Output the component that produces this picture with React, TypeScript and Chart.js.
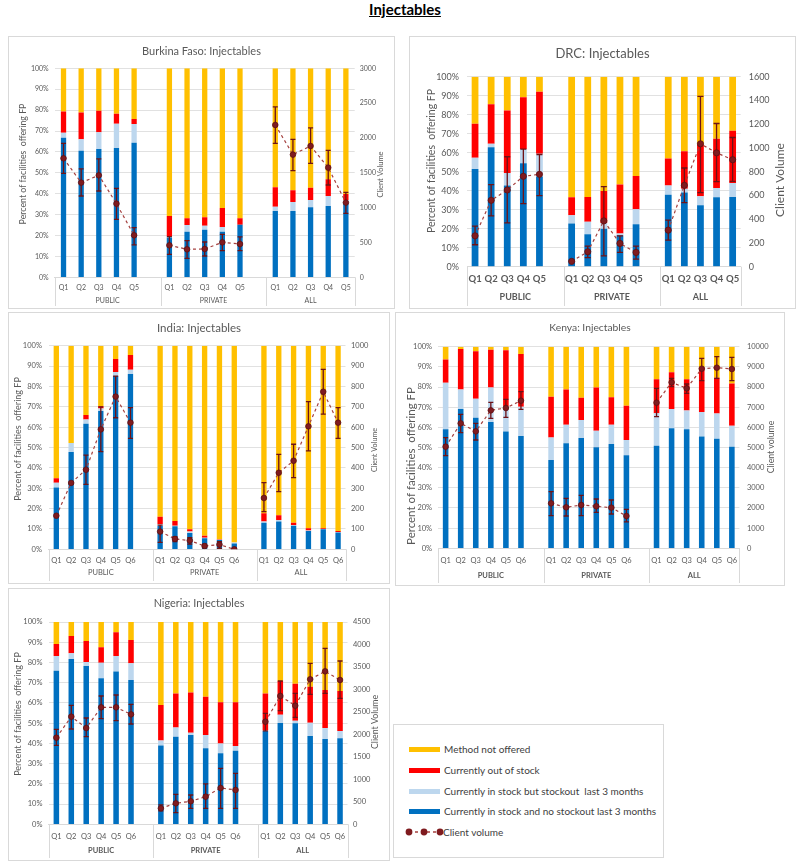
import React, { useEffect, useRef } from 'react';
import { Chart, registerables } from 'chart.js';

Chart.register(...registerables);

const FONT = 'Lato, "Noto Sans", sans-serif';
Chart.defaults.font.family = FONT;

const BLUE = '#0070C0';
const LIGHT_BLUE = '#BDD7EE';
const RED = '#FF0000';
const YELLOW = '#FFC000';
const POINT_FILL = '#7F1B1F';
const POINT_EDGE = '#5E0F12';
const LINE_COLOR = '#A5413F';
const ERR_COLOR = '#6E1216';
const GRID = '#D9D9D9';
const TEXT = '#595959';

const GROUPS = ['PUBLIC', 'PRIVATE', 'ALL'];
const QUINTILES_5 = ['Q1', 'Q2', 'Q3', 'Q4', 'Q5'];
const QUINTILES_6 = ['Q1', 'Q2', 'Q3', 'Q4', 'Q5', 'Q6'];
const SERIES_NAMES = [
  'Currently in stock and no stockout last 3 months',
  'Currently in stock but stockout  last 3 months',
  'Currently out of stock',
  'Method not offered',
];
const LINE_NAME = 'Client volume';
const LEFT_AXIS_TITLE = 'Percent of facilities  offering FP';
const PERCENT_MAX = 100;
const PERCENT_STEP = 10;

// ---------- Burkina Faso ----------
const BF_IN_STOCK = [66.8, 60.6, 61.4, 61.9, 64.4, 19.1, 21.8, 22.8, 21.8, 25.2, 31.7, 31.7, 33.5, 34.1, 35.4];
const BF_STOCKOUT_3M = [2.4, 5.4, 8.0, 11.6, 9.0, 0.4, 3.2, 1.9, 2.3, 0.0, 2.0, 4.3, 3.5, 4.8, 1.6];
const BF_OUT_OF_STOCK = [10.1, 12.8, 10.3, 4.8, 2.4, 9.8, 3.2, 4.0, 9.1, 3.0, 9.4, 5.6, 5.9, 8.0, 2.9];
const BF_NOT_OFFERED = [20.7, 21.2, 20.3, 21.7, 24.2, 70.7, 71.8, 71.3, 66.8, 71.8, 56.9, 58.4, 57.1, 53.1, 60.1];
const BF_CLIENTS = [1708, 1359, 1464, 1057, 603, 459, 402, 407, 502, 478, 2187, 1761, 1885, 1574, 1072];
const BF_CLIENTS_LOW = [1493, 1167, 1239, 832, 464, 330, 273, 306, 383, 383, 1923, 1531, 1636, 1325, 919];
const BF_CLIENTS_HIGH = [1923, 1555, 1699, 1277, 713, 584, 526, 507, 617, 579, 2445, 1981, 2144, 1823, 1220];
const BF_VOLUME_MAX = 3000;
const BF_VOLUME_STEP = 500;

// ---------- DRC ----------
const DRC_IN_STOCK = [51.4, 62.9, 42.8, 54.5, 47.5, 22.7, 17.1, 20.0, 16.6, 22.4, 37.9, 39.0, 32.3, 36.5, 36.7];
const DRC_STOCKOUT_3M = [5.9, 1.8, 6.5, 7.4, 11.9, 4.4, 6.5, 3.0, 0.9, 7.8, 4.9, 2.0, 4.8, 4.9, 7.4];
const DRC_OUT_OF_STOCK = [17.9, 20.8, 32.9, 27.3, 32.7, 9.4, 13.1, 16.9, 25.7, 17.5, 14.2, 19.8, 27.2, 25.9, 27.4];
const DRC_NOT_OFFERED = [24.8, 14.5, 17.8, 10.8, 7.9, 63.5, 63.3, 60.1, 56.8, 52.3, 43.0, 39.2, 35.7, 32.7, 28.5];
const DRC_CLIENTS = [260, 559, 646, 761, 778, 45, 126, 386, 196, 120, 308, 685, 1035, 959, 901];
const DRC_CLIENTS_LOW = [185, 428, 369, 531, 599, 45, 76, 92, 120, 64, 224, 540, 624, 716, 719];
const DRC_CLIENTS_HIGH = [341, 691, 926, 990, 945, 45, 173, 674, 260, 173, 392, 831, 1435, 1206, 1088];
const DRC_VOLUME_MAX = 1600;
const DRC_VOLUME_STEP = 200;

// ---------- India ----------
const IN_IN_STOCK = [30.3, 47.8, 61.7, 67.9, 85.1, 86.1, 11.5, 11.3, 8.0, 5.4, 4.6, 2.9, 13.1, 13.6, 11.6, 9.0, 9.8, 8.2];
const IN_STOCKOUT_3M = [2.4, 4.4, 2.0, 1.3, 2.0, 2.1, 0.8, 0.3, 0.7, 0.3, 0.1, 0.4, 0.5, 0.8, 0.3, 0.2, 0.2, 0.3];
const IN_OUT_OF_STOCK = [2.2, 0.0, 2.3, 1.0, 6.4, 7.2, 3.7, 2.3, 1.1, 1.0, 0.2, 0.0, 4.1, 2.3, 1.2, 1.1, 0.3, 0.5];
const IN_NOT_OFFERED = [65.1, 47.8, 34.0, 29.8, 6.5, 4.6, 84.0, 86.1, 90.2, 93.3, 95.1, 96.7, 82.3, 83.3, 86.9, 89.7, 89.7, 91.0];
const IN_CLIENTS = [165, 326, 391, 589, 750, 622, 87, 51, 43, 16, 23, 0, 252, 376, 435, 604, 774, 622];
const IN_CLIENTS_LOW = [165, 326, 319, 480, 646, 545, 34, 38, 25, 8, 5, 0, 185, 283, 352, 483, 664, 545];
const IN_CLIENTS_HIGH = [165, 326, 463, 700, 851, 696, 119, 62, 57, 25, 38, 0, 327, 466, 516, 725, 884, 696];
const IN_VOLUME_MAX = 1000;
const IN_VOLUME_STEP = 100;

// ---------- Kenya ----------
const KE_IN_STOCK = [59.0, 69.1, 64.8, 62.6, 57.9, 55.7, 43.8, 52.1, 54.7, 50.1, 51.7, 46.1, 50.9, 59.5, 59.0, 55.4, 54.4, 50.4];
const KE_STOCKOUT_3M = [23.1, 9.7, 9.4, 17.2, 12.7, 14.5, 11.2, 9.2, 8.9, 8.2, 9.6, 7.6, 16.1, 9.6, 9.3, 12.2, 12.5, 10.4];
const KE_OUT_OF_STOCK = [11.6, 20.0, 23.5, 18.7, 27.6, 26.2, 20.2, 17.5, 11.1, 21.4, 13.6, 17.0, 16.8, 18.2, 15.5, 22.2, 17.7, 21.0];
const KE_NOT_OFFERED = [6.3, 1.2, 2.3, 1.5, 1.8, 3.6, 24.8, 21.2, 25.3, 20.3, 25.1, 29.3, 16.2, 12.7, 16.2, 10.2, 15.4, 18.2];
const KE_CLIENTS = [5041, 6198, 5802, 6843, 6959, 7322, 2231, 2033, 2149, 2083, 2017, 1603, 7223, 8231, 7934, 8909, 8959, 8893];
const KE_CLIENTS_LOW = [4595, 5736, 5372, 6446, 6496, 6893, 1620, 1603, 1620, 1785, 1702, 1306, 6529, 8017, 7686, 8314, 8430, 8314];
const KE_CLIENTS_HIGH = [5488, 6645, 6198, 7240, 7388, 7769, 2810, 2479, 2628, 2446, 2397, 1934, 7934, 8430, 8149, 9421, 9504, 9471];
const KE_VOLUME_MAX = 10000;
const KE_VOLUME_STEP = 1000;

// ---------- Nigeria ----------
const NG_IN_STOCK = [75.9, 81.7, 78.3, 72.2, 75.5, 71.3, 39.0, 43.3, 44.2, 37.6, 35.1, 36.4, 46.1, 50.1, 49.9, 43.7, 42.2, 42.5];
const NG_STOCKOUT_3M = [7.3, 2.8, 1.9, 7.7, 7.7, 8.3, 2.4, 4.6, 1.1, 6.6, 4.9, 2.3, 0.3, 4.1, 1.3, 6.5, 5.4, 3.6];
const NG_OUT_OF_STOCK = [5.9, 8.6, 10.4, 7.6, 11.7, 11.5, 17.6, 16.8, 19.9, 18.9, 20.3, 21.6, 18.3, 16.6, 18.3, 17.8, 18.8, 19.8];
const NG_NOT_OFFERED = [10.9, 6.9, 9.4, 12.5, 5.1, 8.9, 41.0, 35.3, 34.8, 36.9, 39.7, 39.7, 35.3, 29.2, 30.5, 32.0, 33.6, 34.1];
const NG_CLIENTS = [1927, 2395, 2142, 2602, 2602, 2446, 356, 467, 512, 615, 808, 764, 2283, 2854, 2639, 3225, 3403, 3210];
const NG_CLIENTS_LOW = [1757, 2120, 1950, 2350, 2306, 2231, 297, 259, 356, 356, 356, 356, 2076, 2528, 2380, 2891, 2914, 2802];
const NG_CLIENTS_HIGH = [2113, 2647, 2365, 2854, 2876, 2669, 430, 667, 652, 897, 1245, 1134, 2469, 3188, 2914, 3579, 3914, 3633];
const NG_VOLUME_MAX = 4500;
const NG_VOLUME_STEP = 500;

// insert an empty category after each group (except the last) like the source's multi-level axis
function withGaps<T>(values: T[], perGroup: number): (T | null)[] {
  const out: (T | null)[] = [];
  for (let g = 0; g < GROUPS.length; g++) {
    for (let i = 0; i < perGroup; i++) out.push(values[g * perGroup + i]);
    if (g < GROUPS.length - 1) out.push(null);
  }
  return out;
}

function categoryLabels(quintiles: string[]): string[] {
  const out: string[] = [];
  GROUPS.forEach((_, g) => {
    quintiles.forEach((q) => out.push(q));
    if (g < GROUPS.length - 1) out.push('');
  });
  return out;
}

type Spec = {
  key: string;
  title: string;
  rightTitle: string;
  quintiles: string[];
  inStock: number[];
  stockout3m: number[];
  outOfStock: number[];
  notOffered: number[];
  clients: number[];
  low: number[];
  high: number[];
  rightMax: number;
  rightStep: number;
  frame: { x: number; y: number; w: number; h: number };
  plot: { l: number; t: number; r: number; b: number };
  titleY: number;
  titleSize: number;
  tickSize: number;
  qSize: number;
  qBold: boolean;
  groupSize: number;
  groupBold: boolean;
  groupY: number;
  xPad: number;
  leftPad: number;
  rightPad: number;
  leftTitleSize: number;
  rightTitleSize: number;
  leftTitleX: number;
  leftTitleY: number;
  rightTitleX: number;
  rightTitleY: number;
  barPct: number;
  pointR: number;
  cap: number;
};

const PANELS: Spec[] = [
  {
    key: 'bf', title: 'Burkina Faso: Injectables', rightTitle: 'Client Volume', quintiles: QUINTILES_5,
    inStock: BF_IN_STOCK, stockout3m: BF_STOCKOUT_3M, outOfStock: BF_OUT_OF_STOCK, notOffered: BF_NOT_OFFERED,
    clients: BF_CLIENTS, low: BF_CLIENTS_LOW, high: BF_CLIENTS_HIGH, rightMax: BF_VOLUME_MAX, rightStep: BF_VOLUME_STEP,
    frame: { x: 8, y: 36, w: 387, h: 273 }, plot: { l: 54.7, t: 68.3, r: 354.7, b: 277.3 },
    titleY: 51, titleSize: 11, tickSize: 7, qSize: 7, qBold: false, groupSize: 7, groupBold: false, groupY: 301,
    xPad: 6.5, leftPad: 6, rightPad: 5, leftTitleSize: 8.8, rightTitleSize: 7.5,
    leftTitleX: 23, leftTitleY: 164, rightTitleX: 381, rightTitleY: 174.5,
    barPct: 0.3, pointR: 2.8, cap: 2.5,
  },
  {
    key: 'drc', title: 'DRC: Injectables', rightTitle: 'Client Volume', quintiles: QUINTILES_5,
    inStock: DRC_IN_STOCK, stockout3m: DRC_STOCKOUT_3M, outOfStock: DRC_OUT_OF_STOCK, notOffered: DRC_NOT_OFFERED,
    clients: DRC_CLIENTS, low: DRC_CLIENTS_LOW, high: DRC_CLIENTS_HIGH, rightMax: DRC_VOLUME_MAX, rightStep: DRC_VOLUME_STEP,
    frame: { x: 409, y: 36, w: 387, h: 273 }, plot: { l: 467, t: 76.7, r: 740.7, b: 266.7 },
    titleY: 54, titleSize: 13, tickSize: 9, qSize: 9.5, qBold: true, groupSize: 9, groupBold: true, groupY: 297,
    xPad: 6.8, leftPad: 8, rightPad: 8, leftTitleSize: 10.5, rightTitleSize: 12,
    leftTitleX: 432, leftTitleY: 161, rightTitleX: 780, rightTitleY: 180,
    barPct: 0.42, pointR: 3.1, cap: 3,
  },
  {
    key: 'in', title: 'India: Injectables', rightTitle: 'Client Volume', quintiles: QUINTILES_6,
    inStock: IN_IN_STOCK, stockout3m: IN_STOCKOUT_3M, outOfStock: IN_OUT_OF_STOCK, notOffered: IN_NOT_OFFERED,
    clients: IN_CLIENTS, low: IN_CLIENTS_LOW, high: IN_CLIENTS_HIGH, rightMax: IN_VOLUME_MAX, rightStep: IN_VOLUME_STEP,
    frame: { x: 8, y: 312, w: 382, h: 272 }, plot: { l: 48.9, t: 345.7, r: 345.5, b: 549.3 },
    titleY: 328, titleSize: 11.5, tickSize: 7.5, qSize: 7.5, qBold: false, groupSize: 7.5, groupBold: false, groupY: 573,
    xPad: 6.6, leftPad: 7, rightPad: 5.5, leftTitleSize: 9, rightTitleSize: 7.2,
    leftTitleX: 18, leftTitleY: 439, rightTitleX: 375, rightTitleY: 450,
    barPct: 0.36, pointR: 2.8, cap: 2.5,
  },
  {
    key: 'ke', title: 'Kenya: Injectables', rightTitle: 'Client volume', quintiles: QUINTILES_6,
    inStock: KE_IN_STOCK, stockout3m: KE_STOCKOUT_3M, outOfStock: KE_OUT_OF_STOCK, notOffered: KE_NOT_OFFERED,
    clients: KE_CLIENTS, low: KE_CLIENTS_LOW, high: KE_CLIENTS_HIGH, rightMax: KE_VOLUME_MAX, rightStep: KE_VOLUME_STEP,
    frame: { x: 395, y: 312, w: 390, h: 274 }, plot: { l: 438.1, t: 346.7, r: 739.4, b: 548.3 },
    titleY: 328, titleSize: 10.3, tickSize: 7.5, qSize: 7.5, qBold: false, groupSize: 7.5, groupBold: true, groupY: 576,
    xPad: 7.3, leftPad: 6, rightPad: 7.5, leftTitleSize: 11.5, rightTitleSize: 8.7,
    leftTitleX: 411, leftTitleY: 466, rightTitleX: 771, rightTitleY: 447,
    barPct: 0.37, pointR: 2.8, cap: 2.5,
  },
  {
    key: 'ng', title: 'Nigeria: Injectables', rightTitle: 'Client Volume', quintiles: QUINTILES_6,
    inStock: NG_IN_STOCK, stockout3m: NG_STOCKOUT_3M, outOfStock: NG_OUT_OF_STOCK, notOffered: NG_NOT_OFFERED,
    clients: NG_CLIENTS, low: NG_CLIENTS_LOW, high: NG_CLIENTS_HIGH, rightMax: NG_VOLUME_MAX, rightStep: NG_VOLUME_STEP,
    frame: { x: 8, y: 588, w: 382, h: 273 }, plot: { l: 48.9, t: 622, r: 347.5, b: 824.3 },
    titleY: 603, titleSize: 10.9, tickSize: 7.5, qSize: 7.5, qBold: false, groupSize: 7.5, groupBold: true, groupY: 851,
    xPad: 7.4, leftPad: 6.5, rightPad: 5.5, leftTitleSize: 9, rightTitleSize: 8.8,
    leftTitleX: 18, leftTitleY: 714, rightTitleX: 375, rightTitleY: 722,
    barPct: 0.37, pointR: 2.8, cap: 2.5,
  },
];

function makePlugin(spec: Spec) {
  const n = spec.quintiles.length;
  const lows = withGaps(spec.low, n);
  const highs = withGaps(spec.high, n);
  return {
    id: 'decor_' + spec.key,
    beforeDatasetDraw(chart: any, args: any) {
      if (args.index !== 4) return;
      const ctx = chart.ctx;
      const meta = chart.getDatasetMeta(4);
      const y1 = chart.scales.y1;
      ctx.save();
      ctx.strokeStyle = ERR_COLOR;
      ctx.lineWidth = 1.3;
      meta.data.forEach((pt: any, i: number) => {
        const lo = lows[i];
        const hi = highs[i];
        if (lo == null || hi == null || hi - lo < 1) return;
        const x = pt.x;
        const yh = y1.getPixelForValue(hi);
        const yl = y1.getPixelForValue(lo);
        ctx.beginPath();
        ctx.moveTo(x, yh);
        ctx.lineTo(x, yl);
        ctx.moveTo(x - spec.cap, yh);
        ctx.lineTo(x + spec.cap, yh);
        ctx.moveTo(x - spec.cap, yl);
        ctx.lineTo(x + spec.cap, yl);
        ctx.stroke();
      });
      ctx.restore();
    },
    afterDraw(chart: any) {
      const ctx = chart.ctx;
      const fx = spec.frame.x;
      const fy = spec.frame.y;
      const area = chart.chartArea;
      const xs = chart.scales.x;
      ctx.save();
      ctx.fillStyle = TEXT;
      // chart title
      ctx.font = `${spec.titleSize}px ${FONT}`;
      ctx.textAlign = 'center';
      ctx.textBaseline = 'middle';
      ctx.fillText(spec.title, spec.frame.w / 2, spec.titleY - fy);
      // axis titles
      ctx.save();
      ctx.translate(spec.leftTitleX - fx, spec.leftTitleY - fy);
      ctx.rotate(-Math.PI / 2);
      ctx.font = `${spec.leftTitleSize}px ${FONT}`;
      ctx.fillText(LEFT_AXIS_TITLE, 0, 0);
      ctx.restore();
      ctx.save();
      ctx.translate(spec.rightTitleX - fx, spec.rightTitleY - fy);
      ctx.rotate(-Math.PI / 2);
      ctx.font = `${spec.rightTitleSize}px ${FONT}`;
      ctx.fillText(spec.rightTitle, 0, 0);
      ctx.restore();
      // group separators and labels
      const half = (xs.getPixelForValue(1) - xs.getPixelForValue(0)) / 2;
      const bounds = [area.left];
      for (let g = 0; g < GROUPS.length - 1; g++) {
        const gapIdx = g * (n + 1) + n;
        bounds.push(xs.getPixelForValue(gapIdx) + half);
      }
      bounds.push(area.right);
      ctx.strokeStyle = GRID;
      ctx.lineWidth = 1;
      const bottom = spec.frame.h - 3;
      bounds.forEach((b) => {
        const xb = Math.round(b) + 0.5;
        ctx.beginPath();
        ctx.moveTo(xb, area.bottom);
        ctx.lineTo(xb, bottom);
        ctx.stroke();
      });
      ctx.font = `${spec.groupBold ? 'bold ' : ''}${spec.groupSize}px ${FONT}`;
      GROUPS.forEach((gName, g) => {
        ctx.fillText(gName, (bounds[g] + bounds[g + 1]) / 2, spec.groupY - fy);
      });
      ctx.restore();
    },
  };
}

function makeConfig(spec: Spec): any {
  const n = spec.quintiles.length;
  const labels = categoryLabels(spec.quintiles);
  const barBase = {
    type: 'bar',
    yAxisID: 'y',
    stack: 'status',
    order: 1,
    barPercentage: spec.barPct,
    categoryPercentage: 1,
    borderWidth: 0,
  };
  const fw = spec.frame;
  const pl = spec.plot;
  return {
    type: 'bar',
    data: {
      labels,
      datasets: [
        { ...barBase, label: SERIES_NAMES[0], data: withGaps(spec.inStock, n), backgroundColor: BLUE },
        { ...barBase, label: SERIES_NAMES[1], data: withGaps(spec.stockout3m, n), backgroundColor: LIGHT_BLUE },
        { ...barBase, label: SERIES_NAMES[2], data: withGaps(spec.outOfStock, n), backgroundColor: RED },
        { ...barBase, label: SERIES_NAMES[3], data: withGaps(spec.notOffered, n), backgroundColor: YELLOW },
        {
          type: 'line',
          label: LINE_NAME,
          yAxisID: 'y1',
          order: 0,
          data: withGaps(spec.clients, n),
          borderColor: LINE_COLOR,
          borderWidth: 1.2,
          borderDash: [3, 3],
          pointRadius: spec.pointR,
          pointBackgroundColor: POINT_FILL,
          pointBorderColor: POINT_EDGE,
          pointBorderWidth: 0.8,
          spanGaps: false,
          tension: 0,
          fill: false,
        },
      ],
    },
    options: {
      responsive: false,
      animation: false,
      devicePixelRatio: 1,
      events: [],
      layout: { padding: { top: pl.t - fw.y, left: 0, right: 0, bottom: 0 } },
      plugins: { legend: { display: false }, tooltip: { enabled: false }, title: { display: false } },
      scales: {
        x: {
          stacked: true,
          offset: true,
          grid: { display: false, drawTicks: false },
          border: { display: true, color: GRID },
          ticks: {
            autoSkip: false,
            maxRotation: 0,
            minRotation: 0,
            padding: spec.xPad,
            color: TEXT,
            font: { family: FONT, size: spec.qSize, weight: spec.qBold ? 'bold' : 'normal' },
          },
          afterFit: (s: any) => {
            s.height = fw.y + fw.h - pl.b;
          },
        },
        y: {
          stacked: true,
          min: 0,
          max: PERCENT_MAX,
          position: 'left',
          grid: { color: GRID, drawTicks: false, lineWidth: 0.8 },
          border: { display: false },
          ticks: {
            stepSize: PERCENT_STEP,
            padding: spec.leftPad,
            color: TEXT,
            font: { family: FONT, size: spec.tickSize },
            callback: (v: any) => v + '%',
          },
          afterFit: (s: any) => {
            s.width = pl.l - fw.x;
          },
        },
        y1: {
          position: 'right',
          min: 0,
          max: spec.rightMax,
          grid: { drawOnChartArea: false, drawTicks: false },
          border: { display: false },
          ticks: {
            stepSize: spec.rightStep,
            padding: spec.rightPad,
            color: TEXT,
            font: { family: FONT, size: spec.tickSize },
            callback: (v: any) => String(v),
          },
          afterFit: (s: any) => {
            s.width = fw.x + fw.w - pl.r;
          },
        },
      },
    },
    plugins: [makePlugin(spec)],
  };
}

function Panel({ spec }: { spec: Spec }) {
  const ref = useRef<HTMLCanvasElement>(null);
  useEffect(() => {
    if (!ref.current) return;
    const chart = new Chart(ref.current, makeConfig(spec));
    return () => chart.destroy();
  }, [spec]);
  const f = spec.frame;
  return (
    <div
      style={{
        position: 'absolute',
        left: f.x,
        top: f.y,
        width: f.w,
        height: f.h,
        border: '1px solid #D9D9D9',
        boxSizing: 'border-box',
        background: '#fff',
      }}
    >
      <canvas
        ref={ref}
        width={f.w}
        height={f.h}
        style={{ position: 'absolute', left: -1, top: -1, width: f.w, height: f.h }}
      />
    </div>
  );
}

const LEGEND_ITEMS = [
  { label: SERIES_NAMES[3], color: YELLOW },
  { label: SERIES_NAMES[2], color: RED },
  { label: SERIES_NAMES[1], color: LIGHT_BLUE },
  { label: SERIES_NAMES[0], color: BLUE },
];

function Legend() {
  const box = { x: 393, y: 724, w: 271, h: 134 };
  const rowYs = [748, 769, 790, 810, 831];
  return (
    <div
      style={{
        position: 'absolute',
        left: box.x,
        top: box.y,
        width: box.w,
        height: box.h,
        border: '1px solid #D9D9D9',
        boxSizing: 'border-box',
        background: '#fff',
      }}
    >
      {LEGEND_ITEMS.map((it, i) => (
        <div key={it.label} style={{ position: 'absolute', left: 0, top: rowYs[i] - box.y - 8, height: 16, width: box.w - 2 }}>
          <div style={{ position: 'absolute', left: 408 - box.x, top: 5.5, width: 31, height: 5, background: it.color }} />
          <div
            style={{
              position: 'absolute',
              left: 443 - box.x,
              top: 0,
              lineHeight: '16px',
              fontFamily: FONT,
              fontSize: 10,
              color: '#404040',
              whiteSpace: 'pre',
            }}
          >
            {it.label}
          </div>
        </div>
      ))}
      <div style={{ position: 'absolute', left: 0, top: rowYs[4] - box.y - 8, height: 16, width: box.w - 2 }}>
        <svg width={40} height={16} style={{ position: 'absolute', left: 403 - box.x, top: 0 }}>
          <line x1={5} y1={8} x2={36} y2={8} stroke={LINE_COLOR} strokeWidth={1.4} strokeDasharray="3 3" />
          <circle cx={5} cy={8} r={3.4} fill={POINT_FILL} />
          <circle cx={20} cy={8} r={3.4} fill={POINT_FILL} />
          <circle cx={36} cy={8} r={3.4} fill={POINT_FILL} />
        </svg>
        <div
          style={{
            position: 'absolute',
            left: 442 - box.x,
            top: 0,
            lineHeight: '16px',
            fontFamily: FONT,
            fontSize: 10,
            color: '#404040',
          }}
        >
          {LINE_NAME}
        </div>
      </div>
    </div>
  );
}

export default function App() {
  return (
    <div style={{ position: 'absolute', left: 0, top: 0, width: 800, height: 864, overflow: 'hidden', background: '#fff' }}>
      <div
        style={{
          position: 'absolute',
          left: 325,
          top: 0,
          width: 160,
          textAlign: 'center',
          fontFamily: FONT,
          fontWeight: 'bold',
          fontSize: 15,
          lineHeight: '19px',
          textDecoration: 'underline',
          color: '#000',
        }}
      >
        Injectables
      </div>
      {PANELS.map((p) => (
        <Panel key={p.key} spec={p} />
      ))}
      <Legend />
    </div>
  );
}
